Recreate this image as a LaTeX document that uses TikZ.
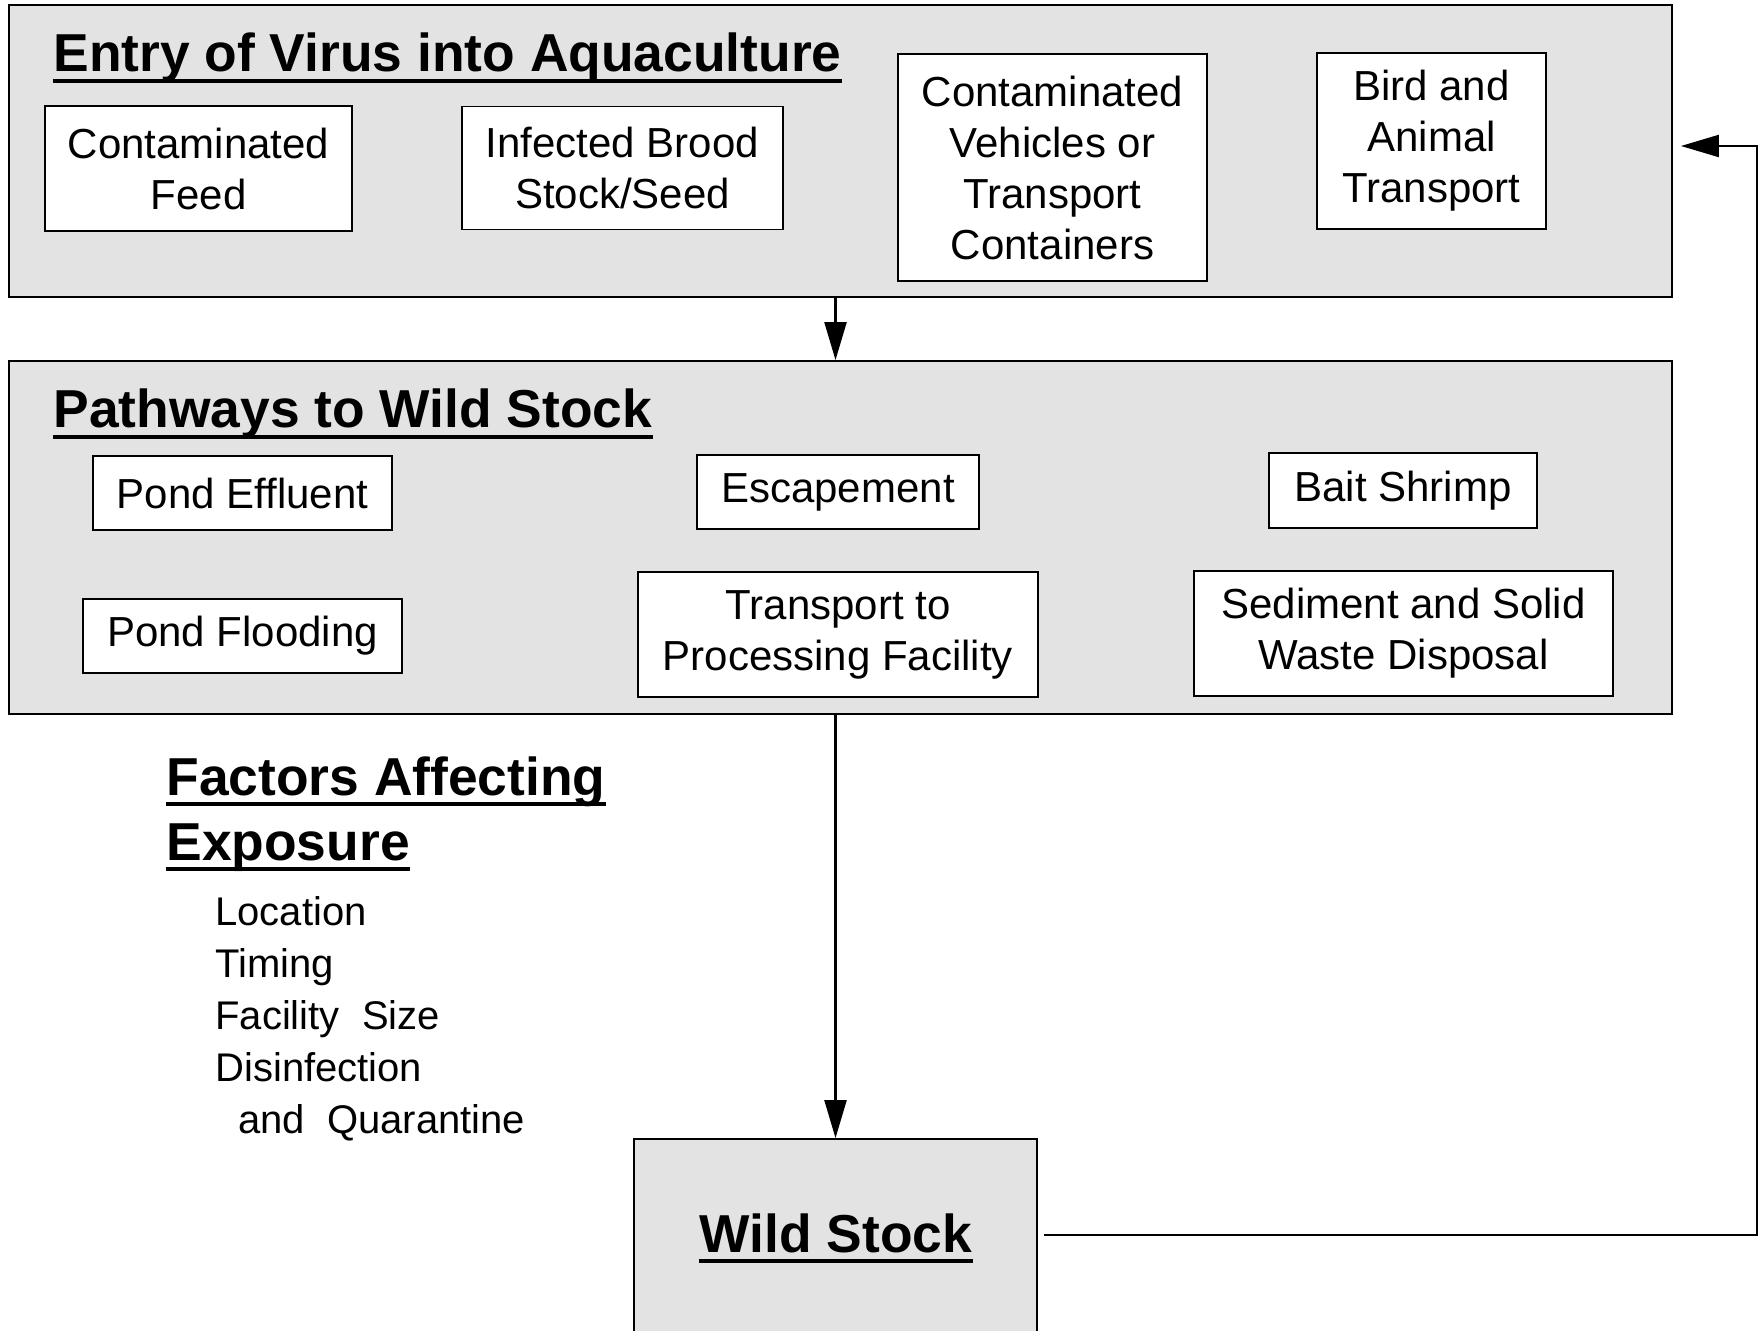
\documentclass[tikz,border=0pt]{standalone}
\usepackage{fontspec}
\setmainfont{Liberation Sans}
\usepackage{tikz}
\usetikzlibrary{arrows.meta, positioning, fit, calc}
\definecolor{stipple}{gray}{0.89}
\newcommand{\ttlfont}{\bfseries\fontsize{26.7}{32}\selectfont}
\newcommand{\boxfont}{\fontsize{21}{25.5}\selectfont}

\begin{document}
\begin{tikzpicture}[x=0.5pt, y=-0.5pt]
        \tikzstyle{panel}=[draw, line width=0.9pt, fill=stipple, inner sep=0pt]
        \tikzstyle{box}=[draw, line width=0.9pt, fill=white, inner sep=0pt, align=center, font=\boxfont]
        \tikzstyle{ttl}=[inner sep=0pt, anchor=base west, font=\ttlfont]
        \tikzstyle{item}=[inner sep=0pt, anchor=base west, font=\fontsize{20}{24}\selectfont]
        \tikzstyle{uline}=[line width=1.8pt]
        \tikzstyle{flow}=[line width=1.1pt, -{Triangle[length=19pt, width=11pt]}]

        % Page
        \clip (0,0) rectangle (1760,1331);
        \fill[white] (0,0) rectangle (1760,1331);

        % Shaded panels
        \node[panel, fit={(9,5) (1672,297)}] (entry) {};
        \node[panel, fit={(9,361) (1672,714)}] (path) {};
        \node[panel, fit={(634,1139) (1037,1350)}] (wild) {};

        % Titles
        \node[ttl] (entryttl) at (53,72) {Entry of Virus into Aquaculture};
        \node[ttl] (pathttl) at (53,428) {Pathways to Wild Stock};
        \node[ttl] (factttl) at (166,795) {Factors Affecting};
        \node[ttl] (expottl) at (166,860) {Exposure};
        \node[ttl, anchor=base] (wildttl) at (836,1252) {Wild Stock};
        \foreach \t in {entryttl, pathttl, factttl, expottl, wildttl}
            \draw[uline] ([yshift=-4.5pt]\t.base west) -- ([yshift=-4.5pt]\t.base east);

        % Entry routes
        \node[box, minimum width=153.5pt, minimum height=62.5pt] (feed) at (198.5,168.5) {Contaminated\\Feed};
        \node[box, minimum width=160.5pt, minimum height=61.5pt] (brood) at (622.5,168) {Infected Brood\\Stock/Seed};
        \node[box, minimum width=154.5pt, minimum height=113.5pt] (vehicle) at (1052.5,167.5) {Contaminated\\Vehicles or\\Transport\\Containers};
        \node[box, minimum width=114.5pt, minimum height=88pt] (bird) at (1431.5,141) {Bird and\\Animal\\Transport};

        % Pathways
        \node[box, minimum width=149.5pt, minimum height=37pt] (effluent) at (242.5,493) {Pond Effluent};
        \node[box, minimum width=141pt, minimum height=37pt] (escape) at (838,492) {Escapement};
        \node[box, minimum width=134pt, minimum height=37.5pt] (bait) at (1403,490.5) {Bait Shrimp};
        \node[box, minimum width=159.5pt, minimum height=37pt] (flood) at (242.5,636) {Pond Flooding};
        \node[box, minimum width=200pt, minimum height=62.5pt] (transport) at (838,634.5) {Transport to\\Processing Facility};
        \node[box, minimum width=209.5pt, minimum height=62.5pt] (sediment) at (1403.5,633.5) {Sediment and Solid\\Waste Disposal};

        % Factors
        \foreach \yy/\txt [count=\i] in {925/Location, 977/Timing, 1029/{Facility\ \ Size}, 1081/Disinfection}
            \node[item] (fac\i) at (215,\yy) {\txt};
        \node[item] (fac5) at (238,1133) {and\ \ Quarantine};

        % Connectors
        \draw[flow] (entry.south -| wild.north) -- (path.north -| wild.north);
        \draw[flow] (path.south -| wild.north) -- (wild.north);
        \draw[flow] ([xshift=3pt]wild.east |- 0,1235) -- ++(713,0) |- ([xshift=4pt]entry.east |- 0,146);
\end{tikzpicture}
\end{document}
